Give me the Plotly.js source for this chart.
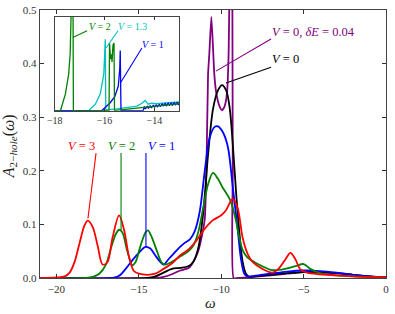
<!DOCTYPE html>
<html>
<head>
<meta charset="utf-8">
<script src="https://cdn.plot.ly/plotly-3.0.1.min.js"></script>
<style>html,body{margin:0;padding:0;background:#fff;}#plot{width:395px;height:314px;}</style>
</head>
<body>
<div id="plot"></div>
<script>
// ---------- main panel data ----------
const redX = [-21,-20,-19.5,-19.2,-18.9,-18.6,-18.3,-18.1,-17.8,-17.5,-17.2,-16.9,-16.6,-16.2,-15.9,-15.6,-15.3,-15.0,-14.5,-14.0,-13.5,-13.0,-12.5,-12.0,-11.5,-11.0,-10.5,-10.0,-9.7,-9.3,-9.0,-8.7,-8.4,-8.1,-7.5,-6.9,-6.5,-6.1,-5.8,-5.5,-5.2,-4.8,-4.0,-3.0,-2.0,-1.0,0];
const redY = [0.0,0.001,0.003,0.01,0.03,0.065,0.098,0.107,0.095,0.06,0.025,0.03,0.075,0.117,0.09,0.04,0.013,0.008,0.006,0.008,0.017,0.027,0.042,0.053,0.07,0.092,0.108,0.117,0.127,0.148,0.13,0.075,0.045,0.03,0.017,0.01,0.018,0.035,0.047,0.035,0.016,0.01,0.007,0.005,0.003,0.002,0.001];

const greenX = [-21,-18.2,-17.8,-17.4,-17.0,-16.7,-16.4,-16.2,-16.0,-15.7,-15.4,-15.2,-14.9,-14.6,-14.45,-14.2,-13.9,-13.6,-13.4,-13.0,-12.5,-12.0,-11.7,-11.4,-11.1,-10.8,-10.5,-10.2,-9.9,-9.5,-9.2,-8.9,-8.7,-8.4,-8.0,-7.5,-7.0,-6.5,-6.0,-5.5,-5.0,-4.6,-4.0,-3.0,-2.0,-1.0,0];
const greenY = [0,0,0.002,0.008,0.025,0.055,0.082,0.09,0.085,0.05,0.024,0.03,0.06,0.085,0.089,0.075,0.05,0.028,0.025,0.03,0.04,0.05,0.06,0.085,0.13,0.175,0.196,0.185,0.168,0.148,0.12,0.075,0.052,0.038,0.03,0.022,0.015,0.015,0.018,0.022,0.026,0.017,0.009,0.005,0.003,0.002,0.001];

const blueX = [-21,-16.6,-16.2,-15.8,-15.4,-15.0,-14.6,-14.3,-14.0,-13.7,-13.5,-13.2,-12.9,-12.5,-12.2,-11.9,-11.6,-11.3,-11.0,-10.7,-10.4,-10.2,-9.9,-9.6,-9.3,-9.0,-8.8,-8.6,-8.4,-8.0,-7.0,-6.0,-5.0,-4.0,-3.0,-2.0,-1.0,0];
const blueY = [0,0,0.004,0.017,0.033,0.047,0.058,0.055,0.042,0.03,0.025,0.035,0.045,0.058,0.066,0.072,0.088,0.125,0.2,0.262,0.282,0.283,0.272,0.245,0.17,0.09,0.035,0.008,0.003,0.004,0.008,0.012,0.014,0.013,0.01,0.006,0.003,0.001];

const blackX = [-21,-14.5,-14.0,-13.5,-13.0,-12.5,-12.0,-11.7,-11.4,-11.1,-10.8,-10.5,-10.2,-9.95,-9.7,-9.5,-9.3,-9.1,-8.9,-8.7,-8.5,-8.3,-8.0,-7.0,-6.0,-5.0,-4.0,-3.0,-2.0,-1.0,0];
const blackY = [0,0,0.003,0.01,0.017,0.019,0.022,0.03,0.055,0.12,0.23,0.315,0.35,0.36,0.35,0.32,0.25,0.16,0.085,0.03,0.008,0.002,0.003,0.006,0.009,0.011,0.011,0.009,0.006,0.003,0.001];

const purpleX = [-21,-14.0,-13.5,-13.0,-12.5,-12.0,-11.7,-11.4,-11.2,-11.0,-10.9,-10.8,-10.72,-10.6,-10.5,-10.42,-10.3,-10.1,-9.95,-9.8,-9.65,-9.55,-9.48,-9.4,-9.33,-9.3,-9.25,-9.0,-8.0,-7.0,-6.0,-5.0,-4.0,-3.0,-2.0,-1.0,0];
const purpleY = [0,0,0.002,0.007,0.014,0.018,0.03,0.05,0.075,0.11,0.2,0.38,0.42,0.487,0.43,0.38,0.345,0.32,0.313,0.32,0.345,0.42,0.6,0.9,0.6,0.2,0.0,0.0,0.002,0.005,0.008,0.011,0.011,0.009,0.006,0.003,0.001];

// ---------- inset data (arbitrary units) ----------
const inGreenX = [-18,-17.77,-17.57,-17.44,-17.38,-17.34,-17.30,-17.27,-17.25,-15.82,-15.8,-15.76,-15.72,-15.7,-15.66,-15.62,-15.6,-15.55,-15.0,-14.5,-14.0,-13.5,-13.0];
const inGreenY = [0,0,0.18,0.39,0.6,0.82,1.5,1.5,0,0,0.72,0.55,0.6,0.52,0.7,0.72,0,0.005,0.02,0.035,0.05,0.06,0.075];

const inCyanX = [-18,-16.64,-16.37,-16.17,-16.03,-15.97,-15.95,-15.9,-15.5,-15.0,-14.7,-14.5,-14.37,-14.25,-14.1,-13.9,-13.6,-13.3,-13.0];
const inCyanY = [0,0,0.07,0.18,0.39,0.76,0.0,0.01,0.02,0.035,0.05,0.08,0.11,0.07,0.08,0.075,0.085,0.09,0.095];

const inBlueX = [-18,-16.12,-15.79,-15.59,-15.45,-15.39,-15.37,-15.34,-14.45,-14.4,-14.36,-14.28,-14.24,-14.16,-14.12,-14.04,-14.0,-13.92,-13.88,-13.8,-13.76,-13.68,-13.64,-13.56,-13.52,-13.44,-13.4,-13.32,-13.28,-13.2,-13.16,-13.08,-13.04,-13.0];
const inBlueY = [0,0,0.08,0.15,0.26,0.45,0.64,0,0,0.045,0.02,0.05,0.025,0.055,0.03,0.06,0.035,0.065,0.04,0.07,0.045,0.075,0.05,0.08,0.05,0.085,0.055,0.085,0.055,0.09,0.06,0.09,0.06,0.09];

// ---------- labels ----------
const mainXTicks = [-20,-15,-10,-5,0];
const mainYTicks = [0.0,0.1,0.2,0.3,0.4,0.5];
const insetXTicks = [-18,-16,-14];

const C = {red:'#FF0000', green:'#008000', blue:'#0000FF', black:'#000000', purple:'#800080', cyan:'#00BFBF'};
const serif = 'Liberation Serif, DejaVu Serif, serif';

function tr(x,y,color,w,xa,ya,smooth){
  const line = {color:color,width:w};
  if (smooth) { line.shape = 'spline'; line.smoothing = smooth; }
  return {x:x,y:y,type:'scatter',mode:'lines',line:line,xaxis:xa,yaxis:ya,hoverinfo:'skip',showlegend:false};
}
const data = [
  tr(purpleX,purpleY,C.purple,1.8,'x','y',0.5),
  tr(blackX,blackY,C.black,1.8,'x','y',0.9),
  tr(blueX,blueY,C.blue,1.8,'x','y',0.9),
  tr(greenX,greenY,C.green,1.8,'x','y',0.9),
  tr(redX,redY,C.red,1.8,'x','y',0.9),
  tr(inCyanX,inCyanY,C.cyan,1.3,'x2','y2',0),
  tr(inBlueX,inBlueY,C.blue,1.3,'x2','y2',0),
  tr(inGreenX,inGreenY,C.green,1.3,'x2','y2',0)
];

// annotation leader lines: [x0,y0,x1,y1,color,xref,yref]
const leaders = [
  [-18.09,0.111,-17.6,0.233,C.red,'x','y'],
  [-16.08,0.089,-16.08,0.233,C.green,'x','y'],
  [-14.57,0.057,-14.57,0.233,C.blue,'x','y'],
  [-10.32,0.386,-6.98,0.446,C.purple,'x','y'],
  [-9.71,0.364,-6.98,0.393,C.black,'x','y'],
  [-17.27,0.78,-16.70,0.85,C.green,'x2','y2'],
  [-15.94,0.667,-15.46,0.85,C.cyan,'x2','y2'],
  [-15.34,0.305,-14.5,0.667,C.blue,'x2','y2']
];
const shapes = leaders.map(l=>({type:'line',x0:l[0],y0:l[1],x1:l[2],y1:l[3],xref:l[5],yref:l[6],line:{color:l[4],width:1.1}}));

function lab(text,x,y,color,size,xa,ya,xanchor){
  return {text:text,x:x,y:y,xref:xa,yref:ya,showarrow:false,xanchor:xanchor||'center',yanchor:'middle',font:{family:serif,size:size,color:color}};
}
const annotations = [
  lab('<i>V</i> = 3',-18.51,0.246,C.red,12.5,'x','y'),
  lab('<i>V</i> = 2',-16.05,0.246,C.green,12.5,'x','y'),
  lab('<i>V</i> = 1',-13.6,0.246,C.blue,12.5,'x','y'),
  lab('<i>V</i> = 0, <i>δE</i> = 0.04',-7.06,0.459,C.purple,12.5,'x','y','left'),
  lab('<i>V</i> = 0',-7.06,0.408,C.black,12.5,'x','y','left'),
  lab('<i>V</i> = 2',-16.2,0.90,C.green,10,'x2','y2'),
  lab('<i>V</i> = 1.3',-14.86,0.90,C.cyan,10,'x2','y2'),
  lab('<i>V</i> = 1',-14.04,0.70,C.blue,10,'x2','y2'),
  {text:'<i>A</i><sub>2−<i>hole</i></sub>(<i>ω</i>)',x:-0.088,y:0.49,xref:'paper',yref:'paper',showarrow:false,textangle:-90,xanchor:'center',yanchor:'middle',font:{family:serif,size:16,color:'#222'}},
  {text:'<i>ω</i>',x:0.494,y:-0.093,xref:'paper',yref:'paper',showarrow:false,xanchor:'center',yanchor:'middle',font:{family:serif,size:15,color:'#222'}}
];

const layout = {
  width:395,height:314,
  margin:{l:40,r:9,t:10,b:36},
  paper_bgcolor:'#fff',plot_bgcolor:'#fff',
  showlegend:false,
  xaxis:{range:[-21,0],tickvals:mainXTicks,ticktext:mainXTicks.map(v=>v<0?'−'+Math.abs(v):String(v)),ticks:'inside',ticklen:4,tickcolor:'#333',mirror:'ticks',showline:true,linecolor:'#444',linewidth:1.3,showgrid:false,zeroline:false,tickfont:{family:serif,size:11,color:'#333'},domain:[0,1],anchor:'y'},
  yaxis:{range:[0,0.5],tickvals:mainYTicks,ticktext:mainYTicks.map(v=>v.toFixed(1)),ticks:'inside',ticklen:4,tickcolor:'#333',mirror:'ticks',showline:true,linecolor:'#444',linewidth:1.3,showgrid:false,zeroline:false,tickfont:{family:serif,size:11,color:'#333'},domain:[0,1],anchor:'x'},
  xaxis2:{range:[-18,-13],tickvals:insetXTicks,ticktext:insetXTicks.map(v=>'−'+Math.abs(v)),ticks:'inside',ticklen:3,tickcolor:'#333',mirror:'ticks',showline:true,linecolor:'#444',linewidth:1.1,showgrid:false,zeroline:false,tickfont:{family:serif,size:10,color:'#333'},domain:[0.0425,0.4026],anchor:'y2'},
  yaxis2:{range:[0,1],showticklabels:false,ticks:'',mirror:true,showline:true,linecolor:'#444',linewidth:1.1,showgrid:false,zeroline:false,domain:[0.624,0.975],anchor:'x2'},
  shapes:shapes,
  annotations:annotations
};

Plotly.newPlot('plot',data,layout,{displayModeBar:false,staticPlot:true});
</script>
</body>
</html>
